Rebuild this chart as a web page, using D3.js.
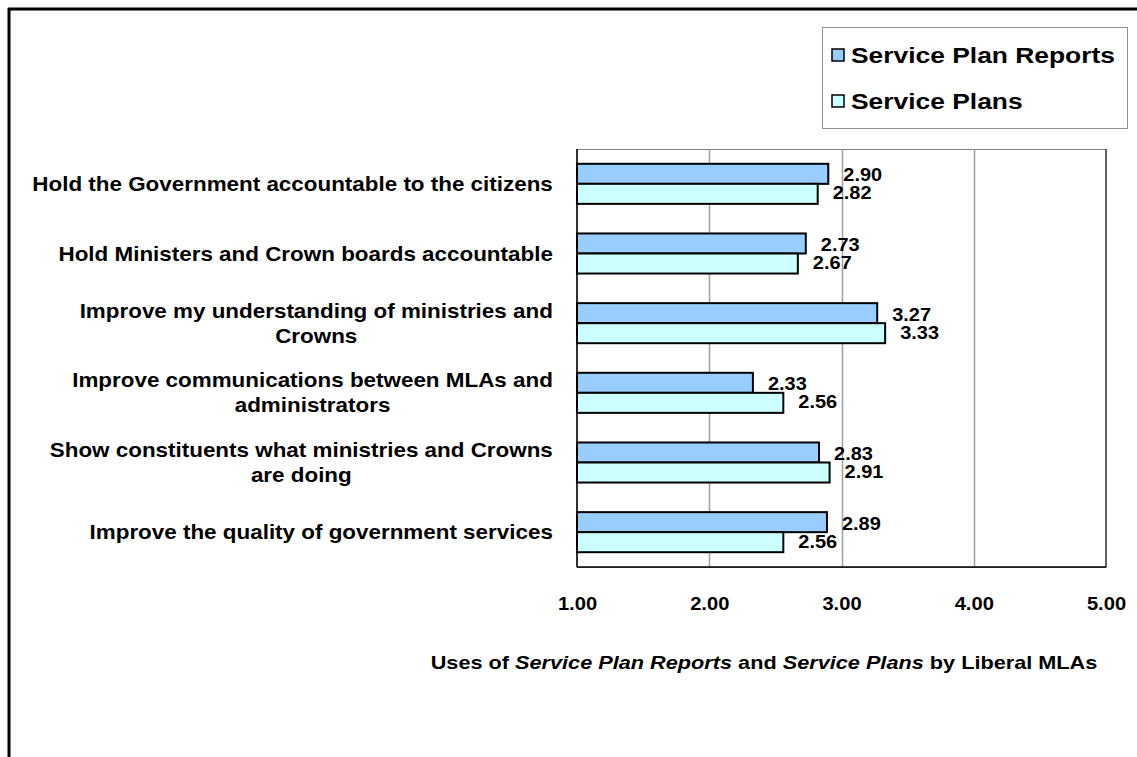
<!DOCTYPE html>
<html>
<head>
<meta charset="utf-8">
<script src="https://cdn.jsdelivr.net/npm/d3@7"></script>
<style>
  html, body { margin: 0; padding: 0; background: #fff; }
  svg { display: block; font-family: Arial, "Liberation Sans", sans-serif; }
</style>
</head>
<body>
<svg id="chart" width="1137" height="757"></svg>
<script>
// Survey categories (each entry is the list of lines shown for that label)
const categories = [
  ["Hold the Government accountable to the citizens"],
  ["Hold Ministers and Crown boards accountable"],
  ["Improve my understanding of ministries and", "Crowns"],
  ["Improve communications between MLAs and", "administrators"],
  ["Show constituents what ministries and Crowns", "are doing"],
  ["Improve the quality of government services"]
];
const seriesNames = ["Service Plan Reports", "Service Plans"];
const reportsValues = [2.90, 2.73, 3.27, 2.33, 2.83, 2.89];
const plansValues   = [2.82, 2.67, 3.33, 2.56, 2.91, 2.56];
const tickValues = [1, 2, 3, 4, 5];
const seriesColors = ["#99CCFF", "#CCFFFF"];

const svg = d3.select("#chart");
const plot = { left: 577, top: 149, right: 1106, bottom: 567 };

const x = d3.scaleLinear().domain([1, 5]).range([plot.left, plot.right]);
const y = d3.scaleBand().domain(d3.range(categories.length))
  .range([plot.top, plot.bottom]).paddingInner(0.425).paddingOuter(0.2125);
const ySeries = d3.scaleBand().domain([0, 1]).range([0, y.bandwidth()]);

// Bold text placed with a slight horizontal widening
function wideText(parent, x0, y0, size, sx, str, anchor) {
  const g = parent.append("g").attr("transform", `translate(${x0},${y0}) scale(${sx},1)`);
  return g.append("text").attr("x", 0).attr("y", 0)
    .attr("font-size", size).attr("font-weight", "bold").attr("fill", "#000")
    .attr("text-anchor", anchor || "start").text(str);
}

// Outer frame (top and left edges visible)
svg.append("line").attr("x1", 8).attr("x2", 1137).attr("y1", 9).attr("y2", 9)
  .attr("stroke", "#000").attr("stroke-width", 3);
svg.append("line").attr("x1", 9).attr("x2", 9).attr("y1", 8).attr("y2", 757)
  .attr("stroke", "#000").attr("stroke-width", 3);

// Plot area frame
svg.append("rect").attr("x", plot.left).attr("y", plot.top + 0.5)
  .attr("width", plot.right - plot.left).attr("height", plot.bottom - plot.top)
  .attr("fill", "#fff").attr("stroke", "#808080").attr("stroke-width", 1);

// Vertical gridlines
svg.append("g").selectAll("line").data(tickValues.slice(1, -1)).join("line")
  .attr("x1", d => Math.round(x(d)) + 0.5).attr("x2", d => Math.round(x(d)) + 0.5)
  .attr("y1", plot.top).attr("y2", plot.bottom)
  .attr("stroke", "#a0a0a0").attr("stroke-width", 1.5);

// Right edge and axes lines
svg.append("line").attr("x1", plot.right).attr("x2", plot.right)
  .attr("y1", plot.top).attr("y2", plot.bottom).attr("stroke", "#404040").attr("stroke-width", 1.5);
svg.append("line").attr("x1", plot.left).attr("x2", plot.right)
  .attr("y1", plot.bottom).attr("y2", plot.bottom).attr("stroke", "#000").attr("stroke-width", 1.5);
svg.append("line").attr("x1", plot.left).attr("x2", plot.left)
  .attr("y1", plot.top).attr("y2", plot.bottom).attr("stroke", "#000").attr("stroke-width", 1.5);

// X axis tick labels
const xAxis = d3.axisBottom(x).tickValues(tickValues).tickFormat(d3.format(".2f")).tickSize(0).tickPadding(0);
const gx = svg.append("g").attr("transform", `translate(0,${plot.bottom + 30})`).call(xAxis);
gx.select(".domain").remove();
gx.selectAll("text").attr("font-size", 19).attr("font-weight", "bold")
  .attr("font-family", "Arial, 'Liberation Sans', sans-serif").attr("fill", "#000")
  .attr("transform", "scale(1.06,1)");

// Bars and value labels
const series = [reportsValues, plansValues];
series.forEach((vals, s) => {
  const g = svg.append("g");
  g.selectAll("rect").data(vals).join("rect")
    .attr("x", x(1))
    .attr("y", (d, i) => y(i) + ySeries(s))
    .attr("width", d => x(d) - x(1))
    .attr("height", ySeries.bandwidth())
    .attr("fill", seriesColors[s]).attr("stroke", "#000").attr("stroke-width", 2);
  vals.forEach((d, i) => {
    const cy = y(i) + ySeries(s) + ySeries.bandwidth() / 2 + (s === 0 ? 1 : -1);
    wideText(svg, x(d) + 15, cy + 6.5, 18.5, 1.08, d3.format(".2f")(d));
  });
});

// Category labels: block right-aligned, lines centred within the block
const labelRight = 553;
const catSize = 19.5, catSx = 1.15, lineH = 25;
categories.forEach((lines, i) => {
  const g = svg.append("g");
  const probe = lines.map(t => g.append("text")
    .attr("font-size", catSize).attr("font-weight", "bold").text(t));
  const maxW = d3.max(probe.map(t => t.node().getComputedTextLength())) * catSx;
  probe.forEach(t => t.remove());
  const cx = labelRight - maxW / 2;
  const cy = y(i) + y.bandwidth() / 2;
  lines.forEach((t, k) => {
    wideText(g, cx, cy + (k - (lines.length - 1) / 2) * lineH + 7, catSize, catSx, t, "middle");
  });
});

// Legend
const legend = svg.append("g");
legend.append("rect").attr("x", 822.5).attr("y", 27.5).attr("width", 305).attr("height", 101)
  .attr("fill", "#fff").attr("stroke", "#909090").attr("stroke-width", 1);
seriesNames.forEach((name, s) => {
  const ly = 55 + s * 46;
  legend.append("rect").attr("x", 832).attr("y", ly - 6).attr("width", 12).attr("height", 12)
    .attr("fill", seriesColors[s]).attr("stroke", "#000").attr("stroke-width", 1.5);
  wideText(legend, 851, ly + 8, 22, 1.2, name);
});

// Axis title with italic document names
const tg = svg.append("g").attr("transform", "translate(764,669) scale(1.24,1)");
const title = tg.append("text").attr("x", 0).attr("y", 0).attr("text-anchor", "middle")
  .attr("font-size", 17.5).attr("font-weight", "bold").attr("fill", "#000");
[["Uses of ", false], ["Service Plan Reports", true], [" and ", false],
 ["Service Plans", true], [" by Liberal MLAs", false]].forEach(([t, it]) => {
  title.append("tspan").attr("font-style", it ? "italic" : "normal").text(t);
});
</script>
</body>
</html>
